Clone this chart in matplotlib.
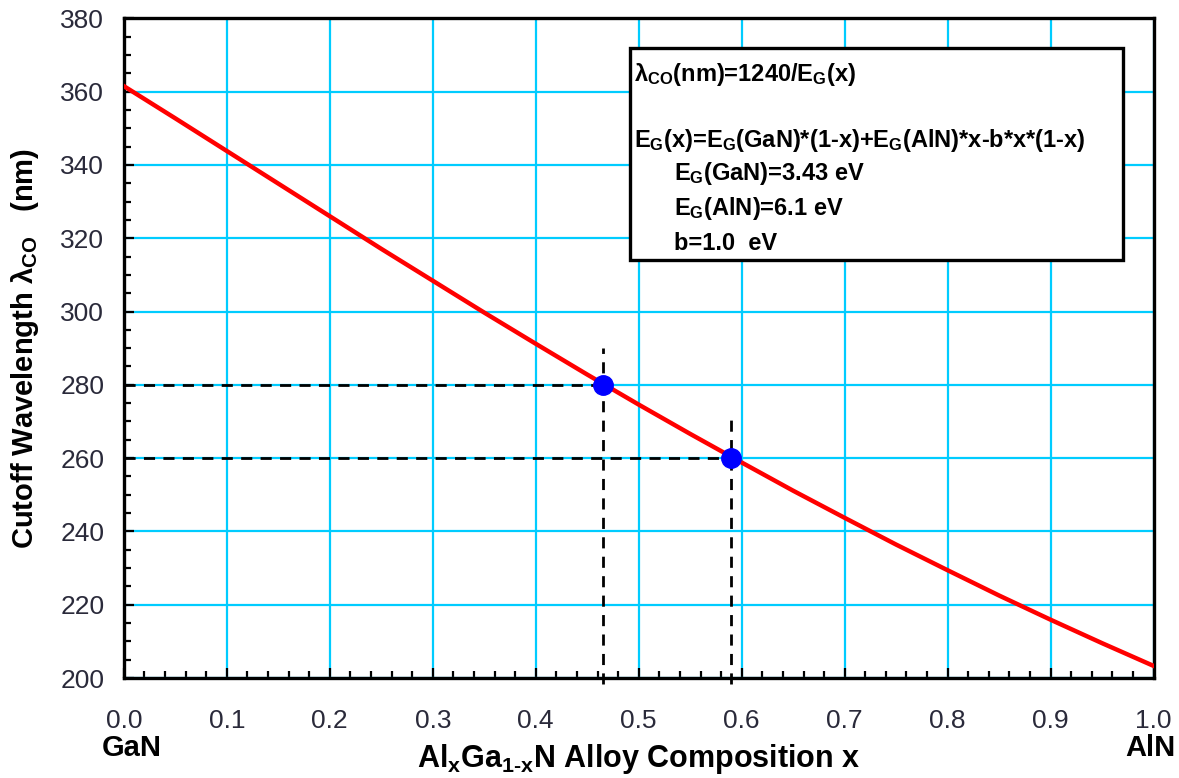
import matplotlib.pyplot as plt
from matplotlib.patches import Rectangle
from matplotlib.ticker import MultipleLocator

plt.rcParams['font.family'] = ['Liberation Sans', 'DejaVu Sans']
plt.rcParams['mathtext.fontset'] = 'custom'
plt.rcParams['mathtext.rm'] = 'Liberation Sans:bold'
plt.rcParams['mathtext.default'] = 'regular'

# cutoff wavelength
x_comp = [0.00, 0.05, 0.10, 0.15, 0.20, 0.25, 0.30, 0.35, 0.40, 0.45, 0.50,
          0.55, 0.60, 0.65, 0.70, 0.75, 0.80, 0.85, 0.90, 0.95, 1.00]
wavelength = [361.5, 352.7, 343.8, 334.9, 326.0, 317.1, 308.4, 299.7, 291.2, 282.8, 274.6,
              266.6, 258.8, 251.1, 243.7, 236.4, 229.4, 222.5, 215.9, 209.5, 203.3]

# marked points
mark_x = [0.465, 0.59]
mark_y = [280, 260]
mark_top = [290, 271]

box_lines = [r'λ$_{CO}$(nm)=1240/E$_G$(x)',
             r'E$_G$(x)=E$_G$(GaN)*(1-x)+E$_G$(AlN)*x-b*x*(1-x)',
             r'E$_G$(GaN)=3.43 eV',
             r'E$_G$(AlN)=6.1 eV',
             r'b=1.0  eV']

fig = plt.figure(figsize=(11.79, 7.78), dpi=100)
ax = fig.add_axes([0.105, 0.1285, 0.8735, 0.848])

ax.plot(x_comp, wavelength, color='red', lw=3.2, zorder=4)

for mx, my, mt in zip(mark_x, mark_y, mark_top):
    ax.plot([0, mx], [my, my], color='black', lw=2.0, ls=(0, (4, 3)), zorder=3)
    ax.plot([mx, mx], [198.5, mt], color='black', lw=2.0, ls=(0, (4, 3)), zorder=3, clip_on=False)
ax.plot(mark_x, mark_y, 'o', color='blue', ms=14, zorder=5)

ax.set_xlim(0, 1)
ax.set_ylim(200, 380)
ax.xaxis.set_major_locator(MultipleLocator(0.1))
ax.xaxis.set_minor_locator(MultipleLocator(0.02))
ax.yaxis.set_major_locator(MultipleLocator(20))
ax.yaxis.set_minor_locator(MultipleLocator(5))
ax.xaxis.set_major_formatter(plt.FuncFormatter(lambda v, p: f'{v:.1f}'))

ax.grid(True, which='major', color='#00ccff', lw=1.6)
ax.set_axisbelow(True)
for s in ax.spines.values():
    s.set_linewidth(2.4)
ax.tick_params(which='both', direction='in', width=1.6, colors='black', labelcolor='#2a2a3a')
ax.tick_params(which='major', length=7, labelsize=19)
ax.tick_params(which='minor', length=5)
ax.tick_params(axis='x', pad=22)
ax.tick_params(axis='y', pad=14)

ax.set_ylabel(r'Cutoff Wavelength λ$_{CO}$   (nm)', fontsize=21, fontweight='bold', labelpad=14)
ax.set_xlabel(r'Al$_x$Ga$_{1\text{-}x}$N Alloy Composition x', fontsize=22, fontweight='bold', labelpad=7)
fig.text(0.112, 0.021, 'GaN', fontsize=21, fontweight='bold', ha='center', va='bottom')
fig.text(0.976, 0.021, 'AlN', fontsize=21, fontweight='bold', ha='center', va='bottom')

ax.add_patch(Rectangle((0.492, 0.633), 0.478, 0.322, transform=ax.transAxes,
                       facecolor='white', edgecolor='black', lw=2.4, zorder=6))
line_y = [0.915, 0.815, 0.764, 0.711, 0.658]
line_x = [0.495, 0.495, 0.534, 0.534, 0.534]
for tx, ty, t in zip(line_x, line_y, box_lines):
    ax.text(tx, ty, t, transform=ax.transAxes, fontsize=17, fontweight='bold',
            va='center', ha='left', zorder=7)

fig.savefig('out.png', dpi=100)
